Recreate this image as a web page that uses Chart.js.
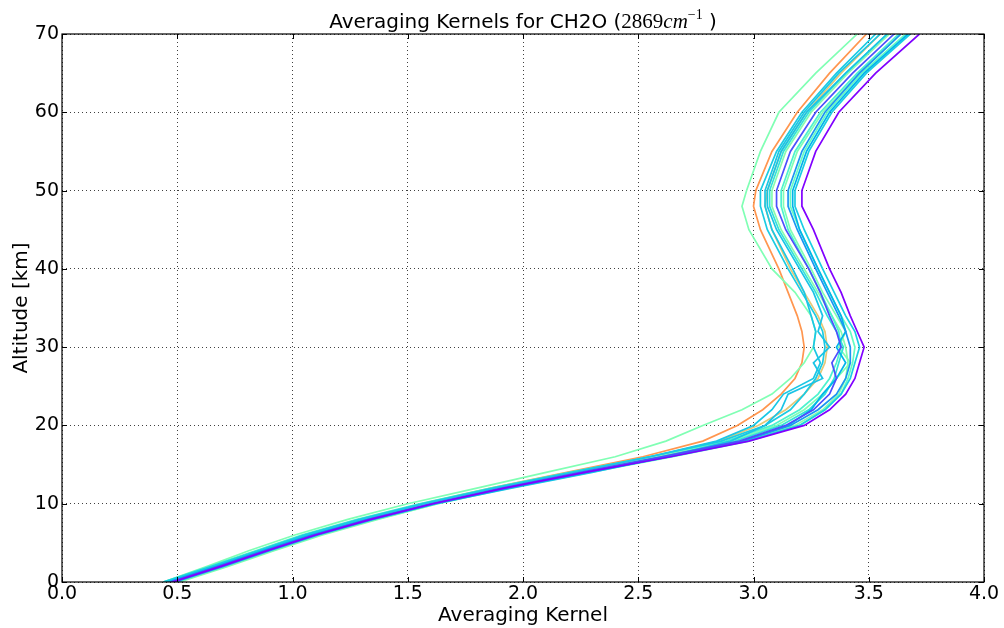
<!DOCTYPE html>
<html><head><meta charset="utf-8">
<script src="https://cdn.jsdelivr.net/npm/chart.js@4"></script>
<style>html,body{margin:0;padding:0;background:#fff}canvas{display:block}</style>
</head><body>
<canvas id="c" width="1004" height="628"></canvas>
<script>
// Altitude levels [km]
const ALTITUDE = [0,2,4,6,8,10,12,14,16,18,20,22,24,26,28,30,32,34,37,40,45,48,50,55,60,65,70];

// Averaging kernel values for each retrieval (x at each altitude)
const kernelA = [0.44,0.63,0.81,1.01,1.24,1.50,1.80,2.10,2.40,2.62,2.78,2.95,3.08,3.16,3.22,3.26,3.27,3.25,3.18,3.08,2.98,2.95,2.97,3.03,3.11,3.27,3.45];
const kernelB = [0.46,0.67,0.86,1.06,1.30,1.56,1.86,2.19,2.52,2.78,2.93,3.04,3.12,3.18,3.21,3.22,3.21,3.19,3.15,3.11,3.03,3.00,3.01,3.08,3.19,3.33,3.49];
const kernelC = [0.47,0.68,0.87,1.08,1.32,1.58,1.88,2.22,2.56,2.85,3.02,3.14,3.22,3.28,3.31,3.32,3.31,3.28,3.22,3.16,3.08,3.05,3.06,3.12,3.23,3.38,3.55];
const kernelD = [0.48,0.69,0.89,1.10,1.34,1.61,1.92,2.27,2.64,2.98,3.22,3.33,3.40,3.44,3.46,3.48,3.45,3.42,3.38,3.33,3.26,3.21,3.21,3.27,3.37,3.53,3.72];
const kernelE = [0.45,0.66,0.86,1.07,1.32,1.60,1.93,2.28,2.64,2.97,3.20,3.31,3.38,3.42,3.44,3.46,3.44,3.40,3.35,3.30,3.22,3.18,3.18,3.24,3.34,3.49,3.68];
const kernelF = [0.47,0.68,0.88,1.09,1.34,1.62,1.95,2.30,2.62,2.90,3.05,3.12,3.15,3.30,3.26,3.33,3.28,3.30,3.26,3.20,3.10,3.06,3.06,3.12,3.23,3.40,3.58];
const kernelG = [0.47,0.68,0.88,1.09,1.33,1.60,1.91,2.25,2.60,2.94,3.14,3.26,3.33,3.36,3.34,3.38,3.36,3.33,3.29,3.24,3.14,3.10,3.10,3.16,3.27,3.43,3.61];
const kernelH = [0.49,0.70,0.90,1.11,1.35,1.62,1.93,2.27,2.62,2.95,3.16,3.28,3.36,3.40,3.42,3.42,3.40,3.37,3.32,3.27,3.19,3.15,3.15,3.21,3.31,3.46,3.64];
const kernelI = [0.44,0.64,0.84,1.04,1.28,1.55,1.86,2.20,2.55,2.88,3.08,3.20,3.28,3.33,3.36,3.38,3.37,3.34,3.29,3.24,3.15,3.12,3.12,3.18,3.29,3.45,3.63];
const kernelJ = [0.51,0.72,0.92,1.13,1.37,1.63,1.93,2.26,2.61,2.96,3.18,3.30,3.37,3.40,3.41,3.40,3.38,3.34,3.28,3.22,3.12,3.08,3.08,3.14,3.25,3.41,3.59];
const kernelK = [0.44,0.65,0.85,1.05,1.29,1.56,1.87,2.21,2.55,2.86,3.05,3.16,3.22,3.27,3.30,3.31,3.30,3.27,3.21,3.15,3.06,3.03,3.03,3.10,3.21,3.36,3.53];
const kernelL = [0.50,0.71,0.91,1.12,1.36,1.63,1.94,2.29,2.65,2.98,3.20,3.31,3.38,3.41,3.43,3.44,3.42,3.38,3.33,3.28,3.20,3.16,3.16,3.22,3.32,3.47,3.66];
const kernelM = [0.46,0.67,0.87,1.07,1.31,1.58,1.89,2.23,2.58,2.90,3.10,3.22,3.30,3.36,3.42,3.37,3.40,3.36,3.30,3.25,3.16,3.13,3.13,3.19,3.30,3.46,3.64];
const kernelN = [0.48,0.69,0.89,1.10,1.34,1.61,1.92,2.26,2.60,2.92,3.12,3.24,3.31,3.35,3.37,3.39,3.36,3.32,3.27,3.21,3.11,3.07,3.07,3.13,3.24,3.40,3.58];
const kernelO = [0.46,0.67,0.87,1.08,1.33,1.61,1.93,2.28,2.63,2.95,3.15,3.25,3.30,3.36,3.40,3.36,3.40,3.38,3.33,3.28,3.20,3.17,3.17,3.23,3.33,3.48,3.67];
const kernelP = [0.45,0.66,0.86,1.06,1.30,1.57,1.88,2.22,2.55,2.84,3.00,3.08,3.13,3.26,3.29,3.26,3.27,3.25,3.22,3.17,3.08,3.05,3.05,3.11,3.22,3.37,3.55];

const KERNELS = [kernelD,kernelG,kernelH,kernelO,kernelE,kernelF,kernelP,kernelK,kernelN,kernelI,kernelL,kernelA,kernelJ,kernelM,kernelC,kernelB];
const KERNEL_COLORS = ['#8000ff','#4d4ffc','#1a96f2','#00b4eb','#1acee3','#1ac4e6','#1ac7e5','#1ccbe3','#33e3d9','#4df2ce','#66fcc2','#80ffb4','#86fcb0','#80ffb4','#e6c777','#ff964f'];

const X_TICKS = [0,0.5,1,1.5,2,2.5,3,3.5,4];
const Y_TICKS = [0,10,20,30,40,50,60,70];

const datasets = KERNELS.map((xs, i) => ({
  label: 'kernel ' + (i + 1),
  data: xs.map((x, j) => ({x: x, y: ALTITUDE[j]})),
  borderColor: KERNEL_COLORS[i],
  borderWidth: 1.7,
  pointRadius: 0,
  showLine: true,
  fill: false,
  tension: 0
}));

const FONT = '"DejaVu Sans", sans-serif';

const framePlugin = {
  id: 'frame',
  afterDatasetsDraw(chart) {
    const {ctx, chartArea: a, scales} = chart;
    ctx.save();
    ctx.strokeStyle = '#000';
    ctx.lineWidth = 1.2;
    ctx.strokeRect(a.left, a.top, a.right - a.left, a.bottom - a.top);
    ctx.lineWidth = 1;
    ctx.beginPath();
    X_TICKS.forEach(v => {
      const px = Math.round(scales.x.getPixelForValue(v)) + 0.5;
      ctx.moveTo(px, a.bottom); ctx.lineTo(px, a.bottom - 5);
      ctx.moveTo(px, a.top); ctx.lineTo(px, a.top + 5);
    });
    Y_TICKS.forEach(v => {
      const py = Math.round(scales.y.getPixelForValue(v)) + 0.5;
      ctx.moveTo(a.left, py); ctx.lineTo(a.left + 5, py);
      ctx.moveTo(a.right, py); ctx.lineTo(a.right - 5, py);
    });
    ctx.stroke();
    ctx.restore();
  },
  afterDraw(chart) {
    const {ctx, chartArea: a} = chart;
    const parts = [
      {t: 'Averaging Kernels for CH2O (', f: '20px "DejaVu Sans"', dy: 0},
      {t: '2869', f: '21px "Liberation Serif"', dy: 0},
      {t: 'cm', f: 'italic 21px "Liberation Serif"', dy: 0},
      {t: '\u22121', f: '14px "Liberation Serif"', dy: -9},
      {t: ' )', f: '20px "DejaVu Sans"', dy: 0}
    ];
    ctx.save();
    ctx.fillStyle = '#000';
    ctx.textBaseline = 'alphabetic';
    let total = 0;
    parts.forEach(p => { ctx.font = p.f; p.w = ctx.measureText(p.t).width; total += p.w; });
    let x = (a.left + a.right) / 2 - total / 2;
    const base = 28;
    parts.forEach(p => { ctx.font = p.f; ctx.fillText(p.t, x, base + p.dy); x += p.w; });
    ctx.restore();
  }
};

new Chart(document.getElementById('c'), {
  type: 'scatter',
  data: {datasets},
  options: {
    responsive: false,
    devicePixelRatio: 1,
    animation: false,
    layout: {padding: {top: 34, right: 20, left: 0, bottom: 0}},
    plugins: {legend: {display: false}, tooltip: {enabled: false}, title: {display: false}},
    scales: {
      x: {
        type: 'linear', min: 0, max: 4,
        afterBuildTicks: s => { s.ticks = X_TICKS.map(v => ({value: v})); },
        afterFit: s => { s.height = 46; },
        ticks: {color: '#000', font: {family: FONT, size: 19}, padding: 1, maxRotation: 0,
                callback: v => Number(v).toFixed(1)},
        grid: {color: 'rgba(0,0,0,0.75)', lineWidth: 1, drawTicks: false},
        border: {display: false, dash: [1, 3]},
        title: {display: true, text: 'Averaging Kernel', color: '#000',
                font: {family: FONT, size: 20}, padding: {top: 0, bottom: 0}}
      },
      y: {
        type: 'linear', min: 0, max: 70,
        afterBuildTicks: s => { s.ticks = Y_TICKS.map(v => ({value: v})); },
        afterFit: s => { s.width = 62; },
        ticks: {color: '#000', font: {family: FONT, size: 19}, padding: 3},
        grid: {color: 'rgba(0,0,0,0.75)', lineWidth: 1, drawTicks: false},
        border: {display: false, dash: [1, 3]},
        title: {display: true, text: 'Altitude [km]', color: '#000',
                font: {family: FONT, size: 20}, padding: {top: 10, bottom: 0}}
      }
    }
  },
  plugins: [framePlugin]
});
</script>
</body></html>
